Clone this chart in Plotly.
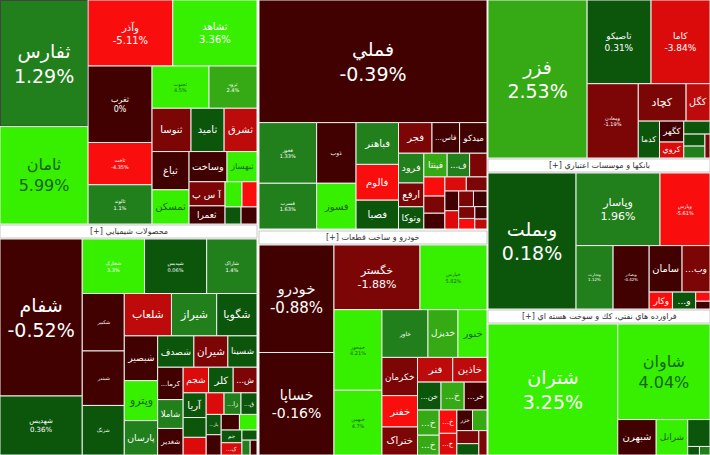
import plotly.graph_objects as go

W, H = 710, 455
FONT = "DejaVu Sans"

# ---------------- data ----------------
# top-left block (construction / real estate and others)
g1_names = ["ثفارس", "ثامان", "وآذر", "ثشاهد", "ثغرب", "ثاخت", "ثالوند", "ثجنوب", "ثرود",
            "ثنوسا", "ثامید", "ثشرق", "ثباغ", "ثمسکن", "وساخت", "ثبهساز", "آ س پ", "ثعمرا",
            "ثنظام", "ثزاگرس", "ثپردیس", "ثاصفا"]
g1_values = [11088, 8536, 5560, 5530, 4864, 2688, 2496, 2394, 2016,
             1677, 1425, 1415, 1406, 1258, 1140, 900, 864, 648,
             425, 375, 272, 270]
g1_chg = [1.29, 5.99, -5.11, 3.36, 0.0, -4.35, 1.1, 4.5, 2.4,
          -1.5, 0.5, -2.8, -0.5, 4.0, -0.6, 3.6, -1.4, -0.7,
          3.5, -4.2, 0.5, -0.4]

# basic metals (top-middle)
g2_names = ["فملي", "فخوز", "فسرب", "ذوب", "فسوز", "فباهنر", "فالوم", "فصبا", "فجر", "...فاس",
            "میدکو", "فرود", "ارفع", "وتوکا", "فپنتا", "...ف", "فلوله",
            "فجام", "فنورد", "فاذر", "فروس", "فگستر", "فکمند", "فافزا", "فنوال", "فسپا",
            "فاما", "فولاژ", "فایرا", "فمراد"]
g2_values = [27816, 3477, 2622, 2379, 1794, 1764, 1512, 1218, 1020, 840,
             835, 750, 600, 560, 550, 530, 410,
             400, 360, 330, 300, 290, 270, 250, 230, 210,
             190, 170, 150, 120]
g2_chg = [-0.39, 1.33, 1.63, -0.5, 3.8, 1.5, -4.6, 0.5, -1.7, -0.8,
          -0.6, 1.4, -1.3, 0.6, 2.5, 1.2, -1.5,
          -4.5, -1.6, -0.7, -3.5, -1.4, -0.6, -3.2, -1.8, -0.5,
          -1.2, -4.1, -0.8, -2.2]

# metal ores (top-right)
g3_names = ["فزر", "تاصیکو", "کاما", "ومعادن", "کچاد", "کگل", "کدما", "کگهر", "کروي",
            "کسرام", "کمنگنز", "کپشیر", "کخاک"]
g3_values = [15543, 5312, 4897, 3774, 1776, 888, 777, 504, 384, 338, 252, 250, 120]
g3_chg = [2.53, 0.31, -3.84, -1.19, -1.5, -2.6, 0.6, -0.8, -3.2, 0.4, 0.7, 1.5, -1.5]

# chemical products (bottom-left)
g4_names = ["شفام", "شهدیس", "شخارک", "شپدیس", "شاراک", "شکبیر", "شبندر", "شزنگ",
            "شلعاب", "شیراز", "شگویا", "شبصیر", "وپترو", "پارسان", "شصدف", "شیران", "شسینا",
            "...کرما", "شاملا", "شغدیر", "شجم", "کلر", "...ش", "آریا",
            "شصفها", "شکلر", "شفن", "...زا", "...ق", "...بار", "شنفت", "شفارس", "شرنگی",
            "جم", "...ک", "شپترو", "شسم", "شدوص"]
g4_values = [12717, 4779, 3345, 3335, 2703, 2378, 2255, 2050,
             1968, 1886, 1681, 1472, 1312, 1130, 1120, 1050, 900,
             812, 725, 667, 640, 621, 600, 560,
             450, 400, 380, 360, 340, 300, 300, 280, 270,
             260, 250, 150, 120, 100]
g4_chg = [-0.52, 0.36, 3.3, 0.06, 1.4, -0.3, -0.4, 0.5,
          -2.7, 1.5, 0.5, -0.6, 4.2, 1.4, 0.7, -1.6, 0.6,
          -0.7, 1.3, -0.8, -3.1, 0.5, -1.7, 0.8,
          0.5, -3.2, -3.3, 1.5, 0.6, 0.6, -0.5, -0.9, 3.5,
          0.3, -3.5, 0.6, 1.4, -0.4]

# automobile and parts (bottom-middle)
g5_names = ["خودرو", "خساپا", "خگستر", "خپارس", "خمحور", "خبهمن", "خاور", "خدیزل", "خنور",
            "خکرمان", "خفنر", "ختراک", "فنر", "خاذین", "...خن", "...خ", "...خر",
            "...خ", "...خ", "...خ", "...خ", "خزر", "خموتور", "خچرخش", "خرینگ", "خلنت"]
g5_values = [8100, 7725, 5590, 4355, 3888, 3120, 2208, 1440, 1392,
             1365, 1120, 1000, 875, 850, 660, 650, 640,
             550, 432, 414, 384, 324, 300, 288, 250, 200]
g5_chg = [-0.88, -0.16, -1.88, 5.82, 4.21, 4.7, 1.9, 2.6, 3.6,
          -1.5, -4.5, -1.6, -2.2, -2.5, 0.5, 2.5, -0.7,
          2.2, 2.6, -4.4, -3.0, -0.6, 2.5, -1.5, 0.6, -1.4]

# banks and credit institutions (right-middle)
g6_names = ["وبملت", "وپاسار", "وپارس", "وتجارت", "وبصادر", "سامان", "...وب", "وکار", "...و",
            "وسینا", "ودی"]
g6_values = [11880, 6048, 3600, 2331, 2268, 1518, 1288, 391, 390, 130, 110]
g6_chg = [0.18, 1.96, -5.61, 1.12, -0.42, -0.5, -1.6, -4.5, 0.5, -4.2, -0.6]

# refined petroleum products (bottom-right)
g7_names = ["شتران", "شاوان", "شبهرن", "شرانل", "شنفت", "شپاس", "شسپا"]
g7_values = [17030, 8832, 1365, 1120, 600, 100, 90]
g7_chg = [3.25, 4.04, -0.6, 3.7, 0.4, 0.5, 1.5]

header_labels = ["[+] محصولات شيميايي", "[+] خودرو و ساخت قطعات",
                 "[+] بانكها و موسسات اعتباري", "[+] فراورده هاي نفتي، كك و سوخت هسته اي"]

# ---------------- styles ----------------
# per-cell label style: (font size, mode) mode 2 = name + %, 1 = name only, 0 = none
g1_style = [(19, 2), (16, 2), (10, 2), (10, 2), (8, 2), (5, 2), (5, 2), (5, 2), (5, 2),
            (10, 1), (10, 1), (10, 1), (10, 1), (10, 1), (10, 1), (9, 1), (10, 1), (9, 1),
            (0, 0), (0, 0), (0, 0), (0, 0)]
g2_style = [(19, 2), (5, 2), (5, 2), (6, 1), (10, 1), (10, 1), (10, 1), (10, 1), (10, 1), (10, 1),
            (10, 1), (10, 1), (10, 1), (10, 1), (9, 1), (9, 1)] + [(0, 0)] * 14
g3_style = [(19, 2), (9, 2), (9, 2), (5, 2), (11, 1), (11, 1), (11, 1), (10, 1), (10, 1),
            (0, 0), (0, 0), (0, 0), (0, 0)]
g4_style = [(19, 2), (7, 2), (5, 2), (5, 2), (5, 2), (5, 1), (5, 1), (5, 1),
            (11, 1), (11, 1), (11, 1), (11, 1), (11, 1), (11, 1), (11, 1), (11, 1), (11, 1),
            (10, 1), (10, 1), (10, 1), (10, 1), (10, 1), (10, 1), (10, 1),
            (0, 0), (0, 0), (0, 0), (9, 1), (9, 1), (9, 1), (0, 0), (0, 0), (0, 0),
            (9, 1), (9, 1), (0, 0), (0, 0), (0, 0)]
g5_style = [(15, 2), (14, 2), (11, 2), (5, 2), (5, 2), (5, 2), (6, 1), (11, 1), (10, 1),
            (10, 1), (10, 1), (10, 1), (10, 1), (10, 1), (9, 1), (9, 1), (9, 1),
            (9, 1), (9, 1), (9, 1), (8, 1), (9, 1), (0, 0), (0, 0), (0, 0), (0, 0)]
g6_style = [(19, 2), (11, 2), (5, 2), (4, 2), (4, 2), (11, 1), (11, 1), (9, 1), (9, 1),
            (0, 0), (0, 0)]
g7_style = [(19, 2), (16, 2), (10, 1), (9, 1), (0, 0), (0, 0), (0, 0)]

# group boxes in pixels (x0, y0, x1, y1) from the top-left corner
boxes = [(0, 0, 257, 224), (259, 0, 487, 229), (488, 0, 710, 158),
         (0, 239, 257, 455), (259, 245, 487, 455), (488, 173, 710, 309),
         (488, 324, 710, 455)]
header_boxes = [(0, 225, 257, 238), (259, 231, 487, 244),
                (488, 159, 710, 172), (488, 310, 710, 323)]


def cell_color(p):
    if p <= -4:
        return "#f90d0d"
    if p <= -3:
        return "#dc0b0b"
    if p <= -2:
        return "#bd0a0a"
    if p <= -1:
        return "#7c0606"
    if p <= 0:
        return "#420101"
    if p <= 1:
        return "#0c560c"
    if p <= 2:
        return "#22801c"
    if p <= 3:
        return "#35aa14"
    return "#36f000"


def text_color(p):
    return "#186418" if p > 3.5 else "#ffffff"


def fmt(p):
    return f"{p:g}%"


groups = [
    ("a", g1_names, g1_values, g1_chg, g1_style),
    ("b", g2_names, g2_values, g2_chg, g2_style),
    ("c", g3_names, g3_values, g3_chg, g3_style),
    ("d", g4_names, g4_values, g4_chg, g4_style),
    ("e", g5_names, g5_values, g5_chg, g5_style),
    ("f", g6_names, g6_values, g6_chg, g6_style),
    ("g", g7_names, g7_values, g7_chg, g7_style),
]

fig = go.Figure()
for (key, names, values, chg, style), (x0, y0, x1, y1) in zip(groups, boxes):
    texts, sizes = [], []
    for n, p, (s, m) in zip(names, chg, style):
        if m == 2:
            texts.append(f"{n}<br>{fmt(p)}")
        elif m == 1:
            texts.append(n)
        else:
            texts.append("")
        sizes.append(max(s, 1))
    fig.add_trace(go.Treemap(
        ids=[f"{key}{i}" for i in range(len(names))],
        labels=names,
        parents=[""] * len(names),
        values=values,
        text=texts,
        texttemplate="%{text}",
        textposition="middle center",
        textfont=dict(family=FONT, size=sizes, color=[text_color(p) for p in chg]),
        marker=dict(colors=[cell_color(p) for p in chg],
                    line=dict(color="#eeeeee", width=1),
                    pad=dict(t=0, l=0, r=0, b=0)),
        tiling=dict(packing="squarify", squarifyratio=1, pad=0),
        pathbar=dict(visible=False),
        sort=True,
        hoverinfo="skip",
        domain=dict(x=[x0 / W, x1 / W], y=[1 - y1 / H, 1 - y0 / H]),
    ))

shapes, annotations = [], []
for label, (x0, y0, x1, y1) in zip(header_labels, header_boxes):
    shapes.append(dict(type="rect", xref="paper", yref="paper",
                       x0=x0 / W, x1=x1 / W, y0=1 - y1 / H, y1=1 - y0 / H,
                       fillcolor="white", line=dict(color="#c8c8c8", width=1), layer="above"))
    annotations.append(dict(xref="paper", yref="paper", x=(x0 + x1) / 2 / W,
                            y=1 - (y0 + y1) / 2 / H, text=label, showarrow=False,
                            xanchor="center", yanchor="middle",
                            font=dict(family=FONT, size=8, color="#333333")))

fig.update_layout(width=W, height=H, margin=dict(l=0, r=0, t=0, b=0),
                  paper_bgcolor="white", plot_bgcolor="white",
                  shapes=shapes, annotations=annotations, showlegend=False)
fig.write_html("out.html", config={"displayModeBar": False},
               post_script="document.body.style.margin='0';")
